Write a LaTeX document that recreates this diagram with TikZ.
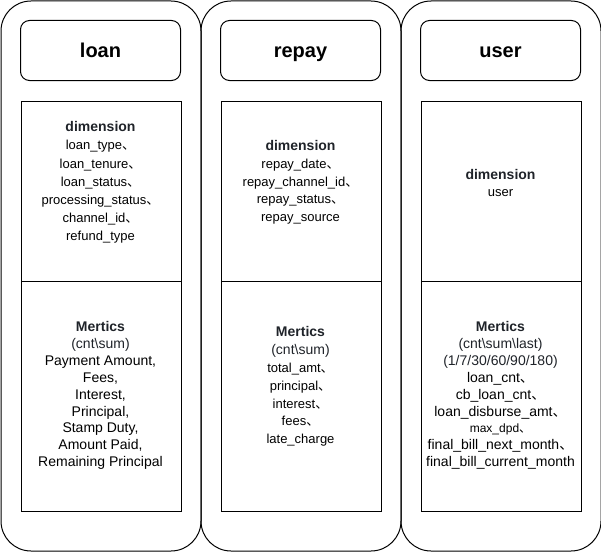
\documentclass[tikz,border=0pt]{standalone}
\usepackage{fontspec}
\setmainfont{Liberation Sans}
\newfontfamily\cjkfont{Noto Sans CJK SC}
\newcommand\dn{{\cjkfont 、}}
\newcommand\us{\_}
\definecolor{hdr}{HTML}{1F2329}
\begin{document}
\begin{tikzpicture}[x=1pt,y=-1pt,
  colbox/.style={draw=black,line width=1pt,rounded corners=30pt,minimum width=200pt,minimum height=550pt,inner sep=0pt,anchor=north west},
  titlebox/.style={draw=black,line width=1pt,rounded corners=9pt,minimum width=160pt,minimum height=60pt,inner sep=0pt,text height=14.5pt,text depth=0pt,font=\bfseries\fontsize{20}{24}\selectfont},
  dimbox/.style={draw=black,line width=1pt,minimum width=160pt,minimum height=180pt,inner sep=0pt,anchor=north west},
  metbox/.style={draw=black,line width=1pt,minimum width=160pt,minimum height=230pt,inner sep=0pt,anchor=north west},
  txt/.style={align=center,inner sep=0pt,text=black}]
\useasboundingbox (0,0) rectangle (601,551);
% outer columns
\node[colbox] (c1) at (0.5,0.5) {};
\node[colbox] (c2) at (200.5,0.5) {};
\node[colbox] (c3) at (400.5,0.5) {};
% titles
\node[titlebox] (t1) at (100.5,50.5) {loan};
\node[titlebox] (t2) at (300.5,50.5) {repay};
\node[titlebox] (t3) at (500.5,50.5) {user};
% dimension boxes
\node[dimbox] (d1) at (20.5,100.5) {};
\node[dimbox] (d2) at (220.5,100.5) {};
\node[dimbox] (d3) at (420.5,100.5) {};
% metrics boxes
\node[metbox] (m1) at (20.5,280.5) {};
\node[metbox] (m2) at (220.5,280.5) {};
\node[metbox] (m3) at (420.5,280.5) {};
% dimension texts
\node[txt,font=\fontsize{13}{18.2}\selectfont] (dt1) at (100.5,182.5) {{\color{hdr}\bfseries\fontsize{14}{18.2}\selectfont dimension}\\
loan\us type\dn\\ loan\us tenure\dn\\ loan\us status\dn\\ processing\us status\dn\\ channel\us id\dn\\ refund\us type};
\node[txt,font=\fontsize{13}{17.75}\selectfont] (dt2) at (300.5,182.5) {{\color{hdr}\bfseries\fontsize{14}{17.75}\selectfont dimension}\\
repay\us date\dn\\ repay\us channel\us id\dn\\ repay\us status\dn\\ repay\us source};
\node[txt,font=\fontsize{13}{17}\selectfont] (dt3) at (500.5,182.5) {{\color{hdr}\bfseries\fontsize{14}{17}\selectfont dimension}\\ user};
% metrics texts
\node[txt,font=\fontsize{14}{16.9}\selectfont] (mt1) at (100.5,395.5) {{\color{hdr}\bfseries Mertics}\\
{\color{hdr}(cnt\textbackslash sum)}\\ Payment Amount,\\ Fees,\\ Interest,\\ Principal,\\ Stamp Duty,\\ Amount Paid,\\ Remaining Principal};
\node[txt,font=\fontsize{13}{17.8}\selectfont] (mt2) at (300.5,386.5) {{\color{hdr}\bfseries\fontsize{14}{17.8}\selectfont Mertics}\\
{\color{hdr}\fontsize{14}{17.8}\selectfont (cnt\textbackslash sum)}\\ total\us amt\dn\\ principal\dn\\ interest\dn\\ fees\dn\\ late\us charge};
\node[txt,font=\fontsize{14}{16.9}\selectfont] (mt3) at (500.5,395.5) {{\color{hdr}\bfseries Mertics}\\
{\color{hdr}(cnt\textbackslash sum\textbackslash last)}\\ {\color{hdr}(1/7/30/60/90/180)}\\ loan\us cnt\dn\\ cb\us loan\us cnt\dn\\ loan\us disburse\us amt\dn\\
{\fontsize{12}{16.9}\selectfont max\us dpd\dn}\\ final\us bill\us next\us month\dn\\ final\us bill\us current\us month};
\end{tikzpicture}
\end{document}
